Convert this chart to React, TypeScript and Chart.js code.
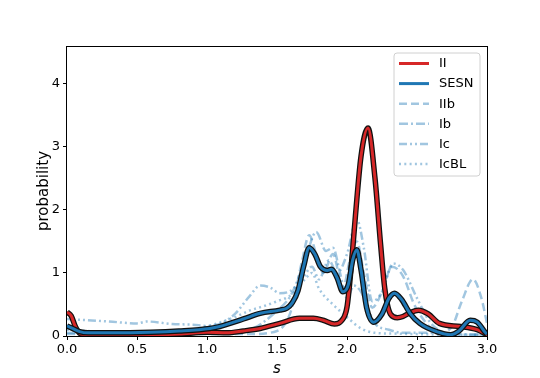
import { useEffect, useRef } from 'react';
import { Chart, registerables } from 'chart.js';

Chart.register(...registerables);

// ---- data ----
const xII = [0, 0.03, 0.06, 0.1, 0.2, 0.4, 0.6, 0.8, 1.0, 1.14, 1.26, 1.38, 1.52, 1.66, 1.76, 1.83, 1.91, 1.96, 2.0, 2.03, 2.06, 2.1, 2.15, 2.2, 2.24, 2.27, 2.31, 2.36, 2.4, 2.45, 2.51, 2.58, 2.66, 2.81, 2.93, 3.0];
const yII = [0.38, 0.32, 0.15, 0.03, 0.02, 0.02, 0.02, 0.03, 0.06, 0.05, 0.08, 0.12, 0.2, 0.28, 0.28, 0.25, 0.19, 0.24, 0.46, 1.1, 1.9, 2.85, 3.3, 2.5, 1.45, 0.75, 0.35, 0.29, 0.31, 0.37, 0.41, 0.35, 0.2, 0.15, 0.1, 0.02];

const xSESN = [0, 0.04, 0.09, 0.15, 0.3, 0.6, 0.8, 1.02, 1.09, 1.26, 1.38, 1.52, 1.57, 1.61, 1.65, 1.69, 1.73, 1.77, 1.81, 1.86, 1.89, 1.93, 1.97, 2.01, 2.04, 2.07, 2.1, 2.14, 2.19, 2.25, 2.3, 2.34, 2.39, 2.45, 2.52, 2.64, 2.74, 2.8, 2.88, 2.93, 2.99, 3.0];
const ySESN = [0.16, 0.12, 0.07, 0.05, 0.05, 0.06, 0.08, 0.12, 0.15, 0.27, 0.36, 0.41, 0.44, 0.53, 0.72, 1.1, 1.4, 1.3, 1.1, 1.04, 1.06, 0.92, 0.7, 0.82, 1.2, 1.37, 1.05, 0.45, 0.22, 0.35, 0.6, 0.68, 0.58, 0.36, 0.2, 0.07, 0.02, 0.08, 0.25, 0.22, 0.05, 0.03];

const xIIb = [0, 0.5, 1.0, 1.3, 1.5, 1.6, 1.68, 1.73, 1.78, 1.83, 1.9, 1.97, 2.02, 2.07, 2.12, 2.18, 2.25, 2.32, 2.4, 2.48, 2.55, 2.65, 2.75, 2.82, 2.9, 2.96, 3.0];
const yIIb = [0.03, 0.03, 0.03, 0.03, 0.08, 0.4, 1.2, 1.6, 1.3, 1.0, 1.3, 0.75, 1.2, 1.5, 1.0, 0.45, 0.7, 1.1, 0.95, 0.5, 0.25, 0.05, 0.15, 0.55, 0.9, 0.6, 0.2];

const xIb = [0, 0.5, 1.0, 1.3, 1.5, 1.6, 1.7, 1.78, 1.85, 1.9, 1.95, 2.0, 2.05, 2.1, 2.2, 2.3, 2.4, 2.5, 2.6, 2.8, 3.0];
const yIb = [0.05, 0.04, 0.05, 0.1, 0.4, 0.65, 1.2, 1.65, 1.35, 1.4, 1.0, 0.6, 0.8, 0.7, 0.2, 0.1, 0.05, 0.05, 0.05, 0.03, 0.02];

const xIc = [0, 0.3, 0.5, 0.57, 0.75, 0.9, 1.0, 1.1, 1.2, 1.3, 1.38, 1.45, 1.52, 1.6, 1.68, 1.75, 1.8, 1.87, 1.93, 2.0, 2.07, 2.12, 2.18, 2.25, 2.33, 2.4, 2.5, 2.6, 2.7, 2.8, 3.0];
const yIc = [0.27, 0.23, 0.2, 0.23, 0.19, 0.18, 0.16, 0.2, 0.35, 0.62, 0.8, 0.77, 0.68, 0.72, 0.9, 1.1, 0.9, 1.2, 1.0, 1.3, 1.85, 1.4, 0.55, 0.7, 1.15, 1.05, 0.6, 0.2, 0.05, 0.02, 0.02];

const xIcBL = [0, 0.3, 0.6, 0.9, 1.0, 1.1, 1.2, 1.3, 1.4, 1.5, 1.6, 1.7, 1.75, 1.8, 1.9, 2.0, 2.1, 2.2, 2.3, 2.5, 2.7, 3.0];
const yIcBL = [0.1, 0.06, 0.05, 0.1, 0.15, 0.22, 0.3, 0.4, 0.47, 0.55, 0.65, 0.9, 1.0, 0.75, 0.5, 0.3, 0.12, 0.05, 0.04, 0.03, 0.02, 0.02];

const legendLabels = ['II', 'SESN', 'IIb', 'Ib', 'Ic', 'IcBL'];

// ---- styles ----
const FONT = 'DejaVu Sans';
const RED = '#d62728';
const BLUE = '#1f77b4';
const LIGHT = 'rgba(31,119,180,0.42)';
const DASHES: number[][] = [[], [], [8, 4], [9, 3, 2, 3], [8, 3, 2, 3, 2, 3], [2, 3.3]];

function pts(xs: number[], ys: number[]) {
  return xs.map((x, i) => ({ x, y: ys[i] }));
}

const framePlugin = {
  id: 'frame',
  afterDraw(chart: any) {
    const { ctx, chartArea: a } = chart;
    ctx.save();
    ctx.strokeStyle = '#000';
    ctx.lineWidth = 1;
    ctx.strokeRect(Math.round(a.left) - 0.5, Math.round(a.top) + 0.5, Math.round(a.right - a.left) + 1, Math.round(a.bottom - a.top));
    ctx.restore();
  },
};

const legendPlugin = {
  id: 'mplLegend',
  afterDraw(chart: any) {
    const { ctx } = chart;
    const bx = 394, by = 53, bw = 86, bh = 123;
    ctx.save();
    ctx.beginPath();
    const r = 3;
    ctx.moveTo(bx + r, by);
    ctx.lineTo(bx + bw - r, by);
    ctx.quadraticCurveTo(bx + bw, by, bx + bw, by + r);
    ctx.lineTo(bx + bw, by + bh - r);
    ctx.quadraticCurveTo(bx + bw, by + bh, bx + bw - r, by + bh);
    ctx.lineTo(bx + r, by + bh);
    ctx.quadraticCurveTo(bx, by + bh, bx, by + bh - r);
    ctx.lineTo(bx, by + r);
    ctx.quadraticCurveTo(bx, by, bx + r, by);
    ctx.closePath();
    ctx.fillStyle = 'rgba(255,255,255,0.8)';
    ctx.fill();
    ctx.strokeStyle = '#d0d0d0';
    ctx.lineWidth = 1;
    ctx.stroke();
    const colors = [RED, BLUE, LIGHT, LIGHT, LIGHT, LIGHT];
    legendLabels.forEach((lab, i) => {
      const y = 63.5 + i * 20.1;
      ctx.beginPath();
      ctx.setLineDash(DASHES[i]);
      ctx.strokeStyle = colors[i];
      ctx.lineWidth = i < 2 ? 3 : 2.5;
      ctx.moveTo(399, y);
      ctx.lineTo(429, y);
      ctx.stroke();
      ctx.setLineDash([]);
      ctx.fillStyle = '#000';
      ctx.font = `13px "${FONT}"`;
      ctx.textBaseline = 'middle';
      ctx.textAlign = 'left';
      ctx.fillText(lab, 439, y + 0.5);
    });
    ctx.restore();
  },
};

function lightSet(xs: number[], ys: number[], dash: number[]) {
  return {
    data: pts(xs, ys),
    borderColor: LIGHT,
    borderWidth: 2.5,
    borderDash: dash,
    pointRadius: 0,
    fill: false,
    cubicInterpolationMode: 'monotone' as const,
    order: 10,
  };
}

export default function App() {
  const ref = useRef<HTMLCanvasElement | null>(null);

  useEffect(() => {
    if (!ref.current) return;
    const chart = new Chart(ref.current, {
      type: 'line',
      data: {
        datasets: [
          lightSet(xIIb, yIIb, DASHES[2]),
          lightSet(xIb, yIb, DASHES[3]),
          lightSet(xIc, yIc, DASHES[4]),
          lightSet(xIcBL, yIcBL, DASHES[5]),
          { data: pts(xII, yII), borderColor: '#111', borderWidth: 5.5, pointRadius: 0, cubicInterpolationMode: 'monotone', order: 4 },
          { data: pts(xII, yII), borderColor: RED, borderWidth: 3, pointRadius: 0, cubicInterpolationMode: 'monotone', order: 3 },
          { data: pts(xSESN, ySESN), borderColor: '#111', borderWidth: 5.5, pointRadius: 0, cubicInterpolationMode: 'monotone', order: 2 },
          { data: pts(xSESN, ySESN), borderColor: BLUE, borderWidth: 3, pointRadius: 0, cubicInterpolationMode: 'monotone', order: 1 },
        ] as any,
      },
      options: {
        animation: false,
        responsive: false,
        layout: { padding: { left: 0, right: 53, top: 46, bottom: 0 } },
        plugins: { legend: { display: false }, tooltip: { enabled: false } },
        scales: {
          x: {
            type: 'linear',
            min: 0,
            max: 3,
            afterFit: (s: any) => { s.height = 42; },
            border: { display: false },
            grid: { display: true, drawOnChartArea: false, drawTicks: true, tickLength: 4, tickColor: '#000' },
            ticks: {
              stepSize: 0.5,
              autoSkip: false,
              maxRotation: 0,
              padding: 2,
              color: '#000',
              font: { family: FONT, size: 13 },
              callback: (v: any) => Number(v).toFixed(1),
            },
            title: { display: true, text: 's', color: '#000', font: { family: FONT, size: 15, style: 'italic' }, padding: { top: 6, bottom: 0 } },
          },
          y: {
            type: 'linear',
            min: 0,
            max: 4.6,
            afterFit: (s: any) => { s.width = 67; },
            border: { display: false },
            grid: { display: true, drawOnChartArea: false, drawTicks: true, tickLength: 4, tickColor: '#000' },
            ticks: {
              stepSize: 1,
              includeBounds: false,
              padding: 3,
              color: '#000',
              font: { family: FONT, size: 13 },
            },
            title: { display: true, text: 'probability', color: '#000', font: { family: FONT, size: 15 }, padding: { top: 35, bottom: 0 } },
          },
        },
      },
      plugins: [framePlugin, legendPlugin],
    });
    return () => chart.destroy();
  }, []);

  return (
    <div style={{ position: 'absolute', left: 0, top: 0, width: 540, height: 378, background: '#fff' }}>
      <canvas ref={ref} width={540} height={378} style={{ width: 540, height: 378, display: 'block' }} />
    </div>
  );
}
